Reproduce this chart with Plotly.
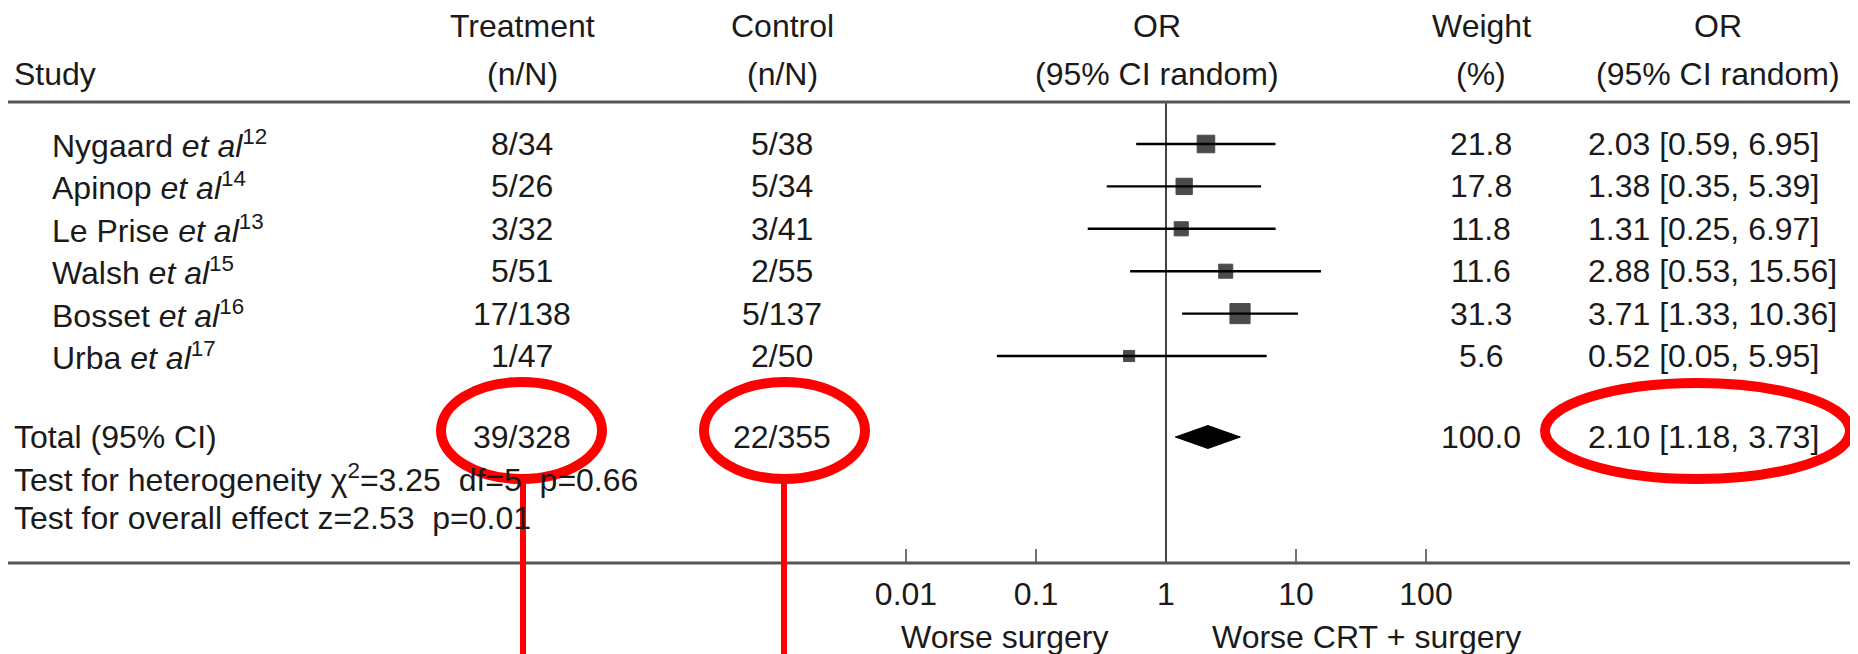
import plotly.graph_objects as go

# ---------------- data ----------------
studies = ["Nygaard", "Apinop", "Le Prise", "Walsh", "Bosset", "Urba"]
refs = ["12", "14", "13", "15", "16", "17"]
treat_nN = ["8/34", "5/26", "3/32", "5/51", "17/138", "1/47"]
ctrl_nN = ["5/38", "5/34", "3/41", "2/55", "5/137", "2/50"]
or_est = [2.03, 1.38, 1.31, 2.88, 3.71, 0.52]
ci_lo = [0.59, 0.35, 0.25, 0.53, 1.33, 0.05]
ci_hi = [6.95, 5.39, 6.97, 15.56, 10.36, 5.95]
weights = [21.8, 17.8, 11.8, 11.6, 31.3, 5.6]

total_treat = "39/328"
total_ctrl = "22/355"
total_or = 2.10
total_lo = 1.18
total_hi = 3.73
total_weight = 100.0

het_chi2 = 3.25
het_df = 5
het_p = 0.66
overall_z = 2.53
overall_p = 0.01

tick_vals = [0.01, 0.1, 1, 10, 100]
tick_text = ["0.01", "0.1", "1", "10", "100"]

# ---------------- layout geometry (page pixels) ----------------
W, H = 1858, 654
OFF = 8                        # the figure div sits at page (8, 8)
X1_PX = 1166                   # page x of OR = 1
DEC_PX = 130                   # pixels per decade
r0 = -(X1_PX - OFF) / DEC_PX
r1 = (W - (X1_PX - OFF)) / DEC_PX

AX_Y = 563
TICK_TOP = 549
TICKLAB_Y = 597
DIR_Y = 637
ROW0, ROWH = 144, 42.4
row_y = [ROW0 + i * ROWH for i in range(len(studies))]
TOTAL_Y = 437
HET_Y = 478
OVR_Y = 518
HEAD1_Y, HEAD2_Y = 26, 74
RULE_Y = 102

FONT = "Liberation Sans, Arial, sans-serif"
FS = 32
TXT = "#1a1a1a"
NB = "\u00a0"


def px(x):
    return (x - OFF) / W


fig = go.Figure()

# reference line at OR = 1
fig.add_trace(go.Scatter(x=[1, 1], y=[RULE_Y, AX_Y], mode="lines",
                         line=dict(color="#444", width=2), hoverinfo="skip"))

# axis tick marks
tx, ty = [], []
for v in tick_vals:
    tx += [v, v, None]
    ty += [TICK_TOP, AX_Y, None]
fig.add_trace(go.Scatter(x=tx, y=ty, mode="lines",
                         line=dict(color="#444", width=1.5), hoverinfo="skip"))

# axis tick labels
fig.add_trace(go.Scatter(x=tick_vals, y=[TICKLAB_Y] * len(tick_vals),
                         mode="text", text=tick_text,
                         textfont=dict(family=FONT, size=FS, color=TXT),
                         textposition="middle center", hoverinfo="skip"))

# confidence intervals
for lo, hi, y in zip(ci_lo, ci_hi, row_y):
    fig.add_trace(go.Scatter(x=[lo, hi], y=[y, y], mode="lines",
                             line=dict(color="#000", width=2.4),
                             hoverinfo="skip"))

# squares sized by weight
fig.add_trace(go.Scatter(
    x=or_est, y=row_y, mode="markers",
    marker=dict(symbol="square", color="#000",
                size=[2.8 * w ** 0.5 + 4.5 for w in weights],
                line=dict(width=1, color="#000")),
    hoverinfo="skip"))

# pooled diamond
DH = 11.5
fig.add_trace(go.Scatter(
    x=[total_lo, total_or, total_hi, total_or, total_lo],
    y=[TOTAL_Y, TOTAL_Y - DH, TOTAL_Y, TOTAL_Y + DH, TOTAL_Y],
    mode="lines", fill="toself", fillcolor="#000",
    line=dict(color="#000", width=1), hoverinfo="skip"))

ann = []


def text(x_px, y, s, anchor="center"):
    ann.append(dict(x=px(x_px), xref="paper", y=y, yref="y", text=s,
                    showarrow=False, xanchor=anchor, yanchor="middle",
                    font=dict(family=FONT, size=FS, color=TXT)))


# headers
COL_T, COL_C, COL_OR, COL_W, COL_ORT = 522, 782, 1157, 1481, 1718
text(12, HEAD2_Y, "Study", "left")
text(COL_T, HEAD1_Y, "Treatment")
text(COL_T, HEAD2_Y, "(n/N)")
text(COL_C, HEAD1_Y, "Control")
text(COL_C, HEAD2_Y, "(n/N)")
text(COL_OR, HEAD1_Y, "OR")
text(COL_OR, HEAD2_Y, "(95% CI random)")
text(COL_W, HEAD1_Y, "Weight")
text(COL_W, HEAD2_Y, "(%)")
text(COL_ORT, HEAD1_Y, "OR")
text(COL_ORT, HEAD2_Y, "(95% CI random)")

# study rows
OR_LEFT = 1586
for i, y in enumerate(row_y):
    text(50, y, f"{studies[i]} <i>et al</i><sup>{refs[i]}</sup>", "left")
    text(COL_T, y, treat_nN[i])
    text(COL_C, y, ctrl_nN[i])
    text(COL_W, y, f"{weights[i]:.1f}")
    text(OR_LEFT, y, f"{or_est[i]:.2f} [{ci_lo[i]:.2f}, {ci_hi[i]:.2f}]", "left")

# totals and tests
text(12, TOTAL_Y, "Total (95% CI)", "left")
text(COL_T, TOTAL_Y, total_treat)
text(COL_C, TOTAL_Y, total_ctrl)
text(COL_W, TOTAL_Y, f"{total_weight:.1f}")
text(OR_LEFT, TOTAL_Y, f"{total_or:.2f} [{total_lo:.2f}, {total_hi:.2f}]", "left")
text(12, HET_Y,
     f"Test for heterogeneity χ<sup>2</sup>={het_chi2:.2f}{NB}{NB}df={het_df}{NB}{NB}p={het_p:.2f}",
     "left")
text(12, OVR_Y, f"Test for overall effect z={overall_z:.2f}{NB}{NB}p={overall_p:.2f}", "left")

# axis direction labels
text(1110, DIR_Y, "Worse surgery", "right")
text(1210, DIR_Y, f"Worse CRT{NB}+{NB}surgery", "left")

fig.update_layout(annotations=ann)

# rules
shapes = [
    dict(type="line", xref="paper", yref="y", x0=0, x1=1,
         y0=RULE_Y, y1=RULE_Y, line=dict(color="#555", width=3)),
    dict(type="line", xref="paper", yref="y", x0=0, x1=1,
         y0=AX_Y, y1=AX_Y, line=dict(color="#555", width=3)),
]

# red highlight ellipses and pointer lines
RED = "#ff0000"
for (x0, x1, y0, y1) in [(441, 602, 382, 479), (704, 865, 382, 479),
                         (1545, 1850, 383, 479)]:
    shapes.append(dict(type="circle", xref="paper", yref="y",
                       x0=px(x0), x1=px(x1), y0=y0, y1=y1,
                       line=dict(color=RED, width=10), fillcolor="rgba(0,0,0,0)"))
for xl, yt in [(523, 483), (784, 483)]:
    shapes.append(dict(type="line", xref="paper", yref="y",
                       x0=px(xl), x1=px(xl), y0=yt, y1=H + OFF + 4,
                       line=dict(color=RED, width=6)))
fig.update_layout(shapes=shapes)

fig.update_layout(
    width=W, height=H, autosize=False,
    margin=dict(l=0, r=0, t=0, b=0, pad=0),
    paper_bgcolor="white", plot_bgcolor="white",
    showlegend=False,
    xaxis=dict(type="log", range=[r0, r1], visible=False, automargin=False,
               fixedrange=True),
    yaxis=dict(range=[H + OFF, OFF], visible=False, automargin=False,
               fixedrange=True),
)

fig.write_html("out.html")
